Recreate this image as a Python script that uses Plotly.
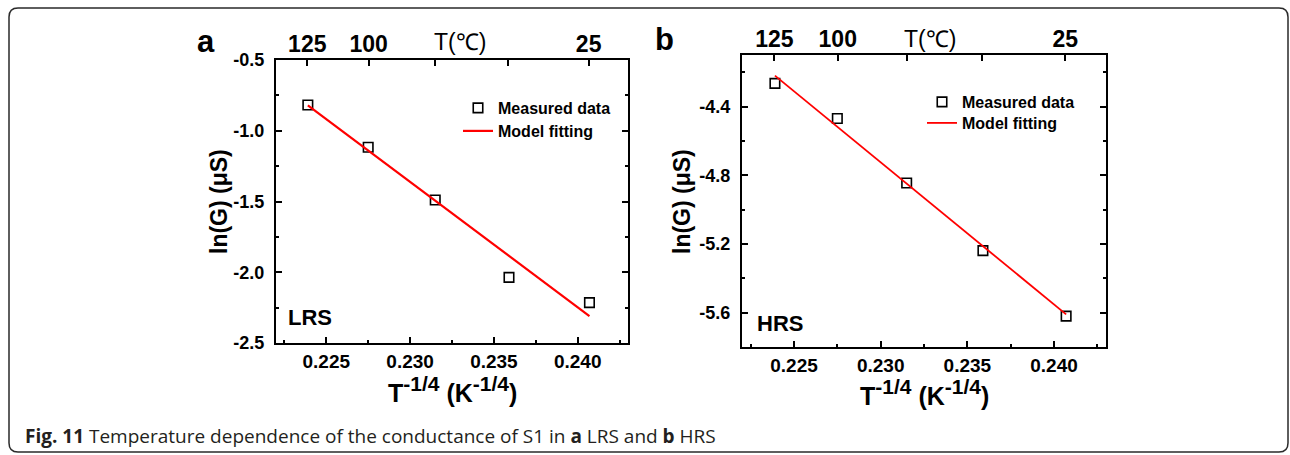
import plotly.graph_objects as go

# ---------------- data ----------------
temps_c = [125, 100, 75, 50, 25]
top_labels = ["125", "100", "", "", "25"]

x_meas = [0.2239, 0.2275, 0.2315, 0.2359, 0.2407]
lrs_meas = [-0.818, -1.117, -1.489, -2.036, -2.215]
lrs_fit_x = [0.2239, 0.2407]
lrs_fit_y = [-0.82, -2.31]

hrs_meas = [-4.265, -4.47, -4.845, -5.239, -5.62]
hrs_fit_x = [0.2239, 0.2407]
hrs_fit_y = [-4.22, -5.61]

x_ticks = [0.225, 0.230, 0.235, 0.240]
x_ticklabels = ["0.225", "0.230", "0.235", "0.240"]
lrs_yticks = [-0.5, -1.0, -1.5, -2.0, -2.5]
lrs_yticklabels = ["-0.5", "-1.0", "-1.5", "-2.0", "-2.5"]
hrs_yticks = [-4.4, -4.8, -5.2, -5.6]
hrs_yticklabels = ["-4.4", "-4.8", "-5.2", "-5.6"]
# top axis tick positions: T^-1/4 of the labelled temperatures (K)
top_tick_pos = [(t + 273.15) ** -0.25 for t in temps_c]

W, H = 1290, 455
FONT = "Arial"


def px(x):
    return x / W


def py(y):
    return 1 - y / H


fig = go.Figure()

mk = dict(symbol="square-open", size=9.5, color="black", line=dict(width=1.6, color="black"))
# Panel a
fig.add_trace(go.Scatter(x=x_meas, y=lrs_meas, mode="markers", name="Measured data",
                         marker=mk, xaxis="x", yaxis="y", legend="legend"))
fig.add_trace(go.Scatter(x=lrs_fit_x, y=lrs_fit_y, mode="lines", name="Model fitting",
                         line=dict(color="#ff0000", width=2.2),
                         xaxis="x", yaxis="y", legend="legend3"))
# Panel b
fig.add_trace(go.Scatter(x=x_meas, y=hrs_meas, mode="markers", name="Measured data",
                         marker=mk, xaxis="x2", yaxis="y2", legend="legend2"))
fig.add_trace(go.Scatter(x=hrs_fit_x, y=hrs_fit_y, mode="lines", name="Model fitting",
                         line=dict(color="#ff0000", width=1.8),
                         xaxis="x2", yaxis="y2", legend="legend4"))
# dummy traces to activate the top (temperature) axes
fig.add_trace(go.Scatter(x=[None], y=[None], xaxis="x3", yaxis="y", showlegend=False,
                         hoverinfo="skip"))
fig.add_trace(go.Scatter(x=[None], y=[None], xaxis="x4", yaxis="y2", showlegend=False,
                         hoverinfo="skip"))

tickfont = dict(family=FONT, size=19, color="black", weight="bold")

common_x = dict(range=[0.222, 0.243], tickvals=x_ticks, ticktext=x_ticklabels,
                ticks="inside", ticklen=6, tickwidth=2, tickcolor="black",
                showline=True, linewidth=2, linecolor="black", mirror=True,
                showgrid=False, zeroline=False, tickfont=tickfont, automargin=False,
                ticklabelstandoff=0,
                minor=dict(tickvals=[0.2225, 0.2275, 0.2325, 0.2375, 0.2425],
                           ticks="inside", ticklen=3, tickwidth=2, tickcolor="black"))

common_top = dict(range=[0.222, 0.243], side="top", tickvals=top_tick_pos,
                  ticktext=top_labels, ticks="inside", ticklen=6, tickwidth=2,
                  tickcolor="black", showline=False, showgrid=False, zeroline=False,
                  automargin=False,
                  tickfont=dict(family=FONT, size=23, color="black", weight="bold"),
                  ticklabelstandoff=2)

common_y = dict(ticks="inside", ticklen=6, tickwidth=2, tickcolor="black",
                showline=True, linewidth=2, linecolor="black", mirror="ticks",
                showgrid=False, zeroline=False, automargin=False,
                tickfont=dict(family=FONT, size=18, color="black", weight="bold"),
                ticklabelstandoff=6)

xa_dom = [px(276), px(628)]
ya_dom = [py(343), py(60)]
xb_dom = [px(742), px(1106)]
yb_dom = [py(347), py(55)]

leg_font = dict(family=FONT, size=16, color="black", weight="bold")


def leg(x, y):
    return dict(x=px(x), y=py(y), xanchor="left", yanchor="middle",
                bgcolor="rgba(0,0,0,0)", borderwidth=0, font=leg_font)


fig.update_layout(
    width=W, height=H, autosize=False,
    margin=dict(l=0, r=0, t=0, b=0, pad=0, autoexpand=False),
    paper_bgcolor="white", plot_bgcolor="white",
    xaxis=dict(domain=xa_dom, anchor="y", **common_x),
    yaxis=dict(domain=ya_dom, anchor="x", range=[-2.5, -0.5],
               tickvals=lrs_yticks, ticktext=lrs_yticklabels,
               minor=dict(tickvals=[-0.75, -1.25, -1.75, -2.25], ticks="inside", ticklen=3,
                          tickwidth=2, tickcolor="black"), **common_y),
    xaxis3=dict(overlaying="x", anchor="y", **common_top),
    xaxis2=dict(domain=xb_dom, anchor="y2", **common_x),
    yaxis2=dict(domain=yb_dom, anchor="x2", range=[-5.8, -4.1],
                tickvals=hrs_yticks, ticktext=hrs_yticklabels,
                minor=dict(tickvals=[-4.2, -4.6, -5.0, -5.4], ticks="inside", ticklen=3,
                           tickwidth=2, tickcolor="black"), **common_y),
    xaxis4=dict(overlaying="x2", anchor="y2", **common_top),
    legend=leg(458, 108),
    legend3=leg(458, 131),
    legend2=leg(922, 102),
    legend4=leg(922, 123),
    showlegend=True,
)

ann = []
title_font = dict(family=FONT, size=23, color="black", weight="bold")
xtitle_font = dict(family=FONT, size=25, color="black", weight="bold")


def note(text, x, y, font, **kw):
    d = dict(text=text, x=px(x), y=py(y), xref="paper", yref="paper",
             xanchor="center", yanchor="middle", showarrow=False, font=font)
    d.update(kw)
    return d


# y titles
ann.append(note("ln(G) (\u03bcS)", 219, 202, title_font, textangle=-90))
ann.append(note("ln(G) (\u03bcS)", 682, 202, title_font, textangle=-90))
# x titles
sup = "<sup><span style='font-size:21px'>-1/4</span></sup>"
xt = f"T{sup} (K{sup})"
ann.append(note(xt, 452, 389, xtitle_font))
ann.append(note(xt, 924, 392, xtitle_font))
# top titles
tf = dict(family=FONT, size=23, color="black")
ann.append(note("T(\u2103)", 460, 42, tf))
ann.append(note("T(\u2103)", 930, 39, tf))
# state labels
lab_font = dict(family=FONT, size=22, color="black", weight="bold")
ann.append(note("LRS", 286, 317, lab_font, xanchor="left"))
ann.append(note("HRS", 755, 323, lab_font, xanchor="left"))
# panel letters
pl_font = dict(family=FONT, size=31, color="black", weight="bold")
ann.append(note("a", 206, 41, pl_font))
ann.append(note("b", 664, 39, pl_font))
# caption
ann.append(note("<b>Fig. 11</b> Temperature dependence of the conductance of S1 in "
                "<b>a</b> LRS and <b>b</b> HRS", 23, 436,
                dict(family="Open Sans", size=19, color="#231f20"), xanchor="left"))
fig.update_layout(annotations=ann)

# rounded frame around the figure
L, T, R, B, r = 9, 8, 1288, 452, 9
rx, ry = r / W, r / H
path = (f"M {px(L)},{py(T) - ry} L {px(L)},{py(B) + ry} Q {px(L)},{py(B)} {px(L) + rx},{py(B)} "
        f"L {px(R) - rx},{py(B)} Q {px(R)},{py(B)} {px(R)},{py(B) + ry} "
        f"L {px(R)},{py(T) - ry} Q {px(R)},{py(T)} {px(R) - rx},{py(T)} "
        f"L {px(L) + rx},{py(T)} Q {px(L)},{py(T)} {px(L)},{py(T) - ry} Z")
fig.add_shape(type="path", path=path, xref="paper", yref="paper",
              line=dict(color="#2a2a2a", width=1.5))

fig.write_html("out.html", config={"responsive": False, "displayModeBar": False},
               post_script="document.body.style.margin='0px';"
                           "document.body.style.overflow='hidden';")
